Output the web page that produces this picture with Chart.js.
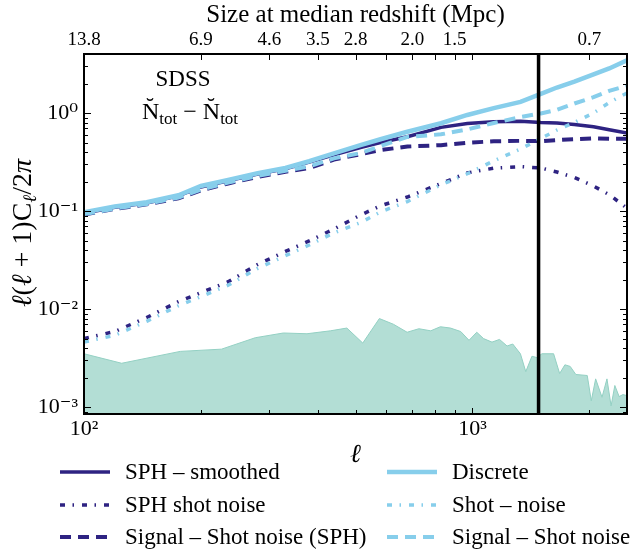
<!DOCTYPE html>
<html><head><meta charset="utf-8">
<script src="https://cdn.jsdelivr.net/npm/chart.js@4"></script>
<style>html,body{margin:0;padding:0;background:#fff}</style>
</head><body>
<canvas id="c" width="630" height="552"></canvas>
<script>
// multipole bins
const ell = [100, 120, 145, 175, 200, 235, 280, 330, 380, 440, 515, 580, 680, 830, 970, 1135, 1330, 1500, 1650, 1830, 2050, 2250, 2500];
// series
const discrete       = [0.097,0.111,0.123,0.145,0.180,0.207,0.243,0.275,0.322,0.388,0.471,0.540,0.644,0.787,0.955,1.12,1.30,1.57,1.82,2.09,2.48,2.85,3.45];
const discreteSignal = [0.093,0.106,0.118,0.137,0.165,0.195,0.228,0.258,0.285,0.345,0.390,0.460,0.570,0.606,0.680,0.790,0.910,0.990,1.08,1.25,1.45,1.68,1.90];
const discreteShot   = [0.0046,0.0054,0.0075,0.0108,0.0134,0.0175,0.026,0.035,0.045,0.060,0.076,0.098,0.125,0.185,0.240,0.325,0.430,0.550,0.670,0.800,1.00,1.28,1.60];
const sphSmoothed    = [0.095,0.109,0.121,0.143,0.176,0.203,0.238,0.270,0.315,0.375,0.445,0.500,0.573,0.714,0.780,0.815,0.825,0.800,0.790,0.765,0.725,0.675,0.625];
const sphSignal      = [0.092,0.105,0.117,0.135,0.162,0.191,0.223,0.252,0.275,0.335,0.380,0.419,0.455,0.470,0.497,0.515,0.520,0.517,0.530,0.540,0.550,0.545,0.545];
const sphShot        = [0.0050,0.0059,0.0082,0.0119,0.0147,0.019,0.0285,0.0387,0.0495,0.0655,0.091,0.113,0.139,0.191,0.245,0.274,0.284,0.275,0.250,0.220,0.180,0.147,0.107];
// noise band
const noiseEll  = [100,125,177,226,276,326,375,431,475,522,576,626,679,728,781,827,878,933,980,1026,1068,1123,1174,1228,1270,1329,1372,1423,1465,1510,1618,1677,1730,1785,1846,1975,2023,2076,2156,2220,2275,2326,2386,2440,2500];
const noiseVals = [0.0035,0.0028,0.0037,0.0039,0.0051,0.0057,0.0056,0.0060,0.0064,0.0045,0.0080,0.0070,0.0058,0.0063,0.0060,0.0066,0.0064,0.0059,0.0048,0.0058,0.0050,0.0046,0.0049,0.0042,0.0044,0.0035,0.0023,0.0033,0.0032,0.0035,0.0035,0.0022,0.0027,0.0026,0.00215,0.0021,0.00116,0.00194,0.00126,0.00194,0.00103,0.00166,0.00128,0.00134,0.00131];
// vertical cut
const ellCut = 1480;
// axis ticks
const xTickVals = [100, 1000];
const xTickLabels = ['10²', '10³'];
const yTickVals = [0.001, 0.01, 0.1, 1];
const yTickLabels = ['10⁻³', '10⁻²', '10⁻¹', '10⁰'];
const sizeTickEll = [100, 200, 300, 400, 500, 700, 900, 2000];
const sizeTickLabels = ['13.8', '6.9', '4.6', '3.5', '2.8', '2.0', '1.5', '0.7'];
const X_MIN = 100, X_MAX = 2500, Y_MIN = 8.5e-4, Y_MAX = 4;

const SERIF = '"Liberation Serif","DejaVu Serif","Times New Roman",serif';
const DARK = '#2e2382', LIGHT = '#87ceeb';
const pts = (xs, ys) => xs.map((x, i) => ({x: x, y: ys[i]}));
const DOT = [5, 7.5, 1.5, 8], DASH = [11, 7];

const frameTicks = {
  id: 'frameTicks',
  afterDatasetsDraw(chart) {
    const {ctx, chartArea: a, scales} = chart;
    ctx.save();
    ctx.strokeStyle = '#000'; ctx.lineWidth = 1;
    const ln = (x1, y1, x2, y2) => { ctx.beginPath(); ctx.moveTo(x1, y1); ctx.lineTo(x2, y2); ctx.stroke(); };
    const y = scales.y, x = scales.x;
    for (let k = -4; k <= 1; k++) for (let m = 1; m <= 9; m++) {
      const v = m * Math.pow(10, k);
      if (v < y.min || v > y.max) continue;
      const p = Math.round(y.getPixelForValue(v)) + 0.5, L = m === 1 ? 7 : 4;
      ln(a.left, p, a.left + L, p); ln(a.right - L, p, a.right, p);
    }
    for (let k = 2; k <= 3; k++) for (let m = 1; m <= 9; m++) {
      const v = m * Math.pow(10, k);
      if (v < x.min || v > x.max) continue;
      const p = Math.round(x.getPixelForValue(v)) + 0.5, L = m === 1 ? 6 : 4;
      ln(p, a.bottom, p, a.bottom - L);
      if (v <= 1000 || v === 2000) ln(p, a.top, p, a.top + 6);
    }
    ctx.lineWidth = 2;
    ctx.strokeRect(a.left, a.top, a.right - a.left, a.bottom - a.top);
    ctx.restore();
  },
  afterDraw(chart) {
    const {ctx} = chart;
    ctx.save();
    ctx.fillStyle = '#000';
    // annotation
    ctx.font = '23px ' + SERIF; ctx.textAlign = 'center'; ctx.textBaseline = 'alphabetic';
    ctx.fillText('SDSS', 183, 86);
    ctx.textAlign = 'left';
    let cx = 142;
    const part = (t, size, dy, style) => { ctx.font = (style || '') + ' ' + size + 'px ' + SERIF; ctx.fillText(t, cx, 119 + dy); cx += ctx.measureText(t).width; };
    part('N\u0306', 24, 0); part('tot', 17, 5); part(' \u2212 ', 24, 0); part('N\u0306', 24, 0); part('tot', 17, 5);
    // y title
    ctx.save();
    ctx.translate(31, 233); ctx.rotate(-Math.PI / 2);
    const pieces = [['\u2113', 28, 0, 'italic'], ['(', 28, 0, ''], ['\u2113', 28, 0, 'italic'], [' + 1)C', 28, 0, ''], ['\u2113', 19, 5, 'italic'], ['/2', 28, 0, ''], ['\u03c0', 28, 0, 'italic']];
    let w = 0;
    pieces.forEach(p => { ctx.font = p[3] + ' ' + p[1] + 'px ' + SERIF; w += ctx.measureText(p[0]).width; });
    let px = -w / 2;
    pieces.forEach(p => { ctx.font = p[3] + ' ' + p[1] + 'px ' + SERIF; ctx.fillText(p[0], px, p[2]); px += ctx.measureText(p[0]).width; });
    ctx.restore();
    // legend
    const cols = [[60, 110, 125], [387, 437, 452]];
    const rows = [472, 505, 537];
    const order = [['SPH – smoothed', 'Discrete'], ['SPH shot noise', 'Shot – noise'], ['Signal – Shot noise (SPH)', 'Signal – Shot noise']];
    ctx.textBaseline = 'middle'; ctx.font = '23px ' + SERIF;
    order.forEach((r, ri) => r.forEach((lab, ci) => {
      const ds = chart.data.datasets.find(d => d.label === lab);
      const [x1, x2, tx] = cols[ci], yy = rows[ri];
      ctx.save();
      ctx.strokeStyle = ds.borderColor; ctx.lineWidth = ds.borderWidth; ctx.setLineDash(ds.borderDash || []);
      ctx.beginPath(); ctx.moveTo(x1, yy); ctx.lineTo(x2, yy); ctx.stroke();
      ctx.restore();
      ctx.fillText(lab, tx, yy + 1);
    }));
    ctx.restore();
  }
};

const line = (label, ys, color, width, dash) => ({label, data: pts(ell, ys), borderColor: color, borderWidth: width, borderDash: dash || [], pointRadius: 0, fill: false});

new Chart(document.getElementById('c'), {
  type: 'line',
  data: {datasets: [
    {label: 'cut', data: [{x: ellCut, y: Y_MIN}, {x: ellCut, y: Y_MAX}], borderColor: '#000', borderWidth: 3.5, pointRadius: 0},
    line('Discrete', discrete, LIGHT, 4.5),
    line('Signal – Shot noise', discreteSignal, LIGHT, 4, DASH),
    line('Shot – noise', discreteShot, LIGHT, 3.5, DOT),
    line('SPH – smoothed', sphSmoothed, DARK, 3.5),
    line('Signal – Shot noise (SPH)', sphSignal, DARK, 4, DASH),
    line('SPH shot noise', sphShot, DARK, 3.5, DOT),
    {label: 'noise', data: pts(noiseEll, noiseVals), borderColor: '#93d0c3', borderWidth: 1, backgroundColor: '#b3ded5', fill: 'start', pointRadius: 0}
  ]},
  options: {
    responsive: false, animation: false,
    plugins: {legend: {display: false}, tooltip: {enabled: false}},
    elements: {line: {tension: 0}},
    layout: {padding: {left: 0, right: 3, top: 0, bottom: 0}},
    scales: {
      x: {type: 'logarithmic', position: 'bottom', min: X_MIN, max: X_MAX,
        grid: {display: false, drawTicks: false}, border: {display: false},
        afterBuildTicks: s => { s.ticks = xTickVals.map(v => ({value: v})); },
        ticks: {autoSkip: false, maxRotation: 0, padding: 2, color: '#000', font: {family: SERIF, size: 22},
          callback: v => { const i = xTickVals.indexOf(v); return i >= 0 ? xTickLabels[i] : ''; }},
        title: {display: true, text: '\u2113', color: '#000', font: {family: SERIF, size: 26, style: 'italic'}, padding: {top: 0, bottom: 81}},
        afterFit: s => { s.height = 138; }},
      x2: {type: 'logarithmic', position: 'top', min: X_MIN, max: X_MAX,
        grid: {display: false, drawTicks: false}, border: {display: false},
        afterBuildTicks: s => { s.ticks = sizeTickEll.map(v => ({value: v})); },
        ticks: {autoSkip: false, maxRotation: 0, padding: 3, color: '#000', font: {family: SERIF, size: 19},
          callback: v => { const i = sizeTickEll.indexOf(v); return i >= 0 ? sizeTickLabels[i] : ''; }},
        title: {display: true, text: 'Size at median redshift (Mpc)', color: '#000', font: {family: SERIF, size: 25}, padding: {top: 0, bottom: 0}},
        afterFit: s => { s.height = 54; }},
      y: {type: 'logarithmic', position: 'left', min: Y_MIN, max: Y_MAX,
        grid: {display: false, drawTicks: false}, border: {display: false},
        afterBuildTicks: s => { s.ticks = yTickVals.map(v => ({value: v})); },
        ticks: {autoSkip: false, padding: 6, color: '#000', font: {family: SERIF, size: 22},
          callback: v => { const i = yTickVals.indexOf(v); return i >= 0 ? yTickLabels[i] : ''; }},
        afterFit: s => { s.width = 84; }}
    }
  },
  plugins: [frameTicks]
});
</script>
</body></html>
